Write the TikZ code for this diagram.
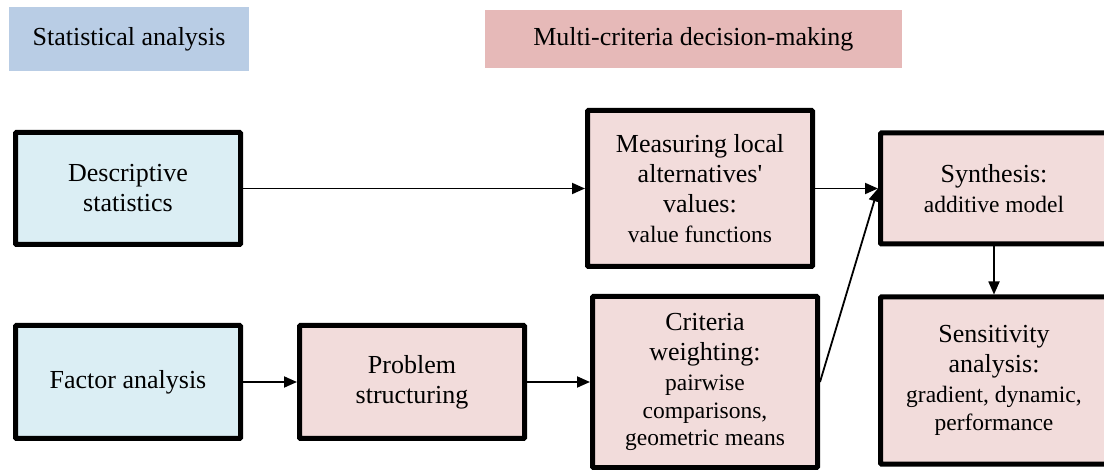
\documentclass[tikz,border=0pt]{standalone}
\usepackage{fontspec}
\newfontfamily\tnr{Liberation Serif}[Ligatures=TeXOff]
\usetikzlibrary{arrows.meta, positioning}
\definecolor{hblue}{HTML}{B9CDE5}
\definecolor{hpink}{HTML}{E6B9B8}
\definecolor{sblue}{HTML}{DBEEF4}
\definecolor{spink}{HTML}{F2DCDB}
\newcommand{\subtext}{\tnr\fontsize{11.75}{13.75}\selectfont}
\tikzset{
  head/.style={rectangle, draw=none, align=center, font=\tnr\fontsize{13}{15}\selectfont},
  box/.style={rectangle, rounded corners=0.5pt, draw=black, line width=2.5pt, minimum width=112.5pt,
              align=center, inner sep=1pt, font=\tnr\fontsize{13}{15}\selectfont},
  stat/.style={fill=sblue},
  mcdm/.style={fill=spink},
  flow/.style={-{Triangle[length=6.5pt, width=5.5pt]}, line width=0.9pt}
}

\begin{document}
\begin{tikzpicture}[x=0.5pt, y=0.5pt]
  \useasboundingbox (0,0) rectangle (1104,-470);
  % group headings
  \node[head, fill=hblue, minimum width=120pt, minimum height=32pt] (stathead) at (129,-39) {Statistical analysis};
  \node[head, fill=hpink, minimum width=208.5pt, minimum height=29pt, right=117.5pt of stathead] (mcdmhead) {Multi-criteria decision-making};

  % statistical steps
  \node[box, stat, minimum height=56pt] (desc) at (128,-188.5) {Descriptive\\statistics};
  \node[box, stat, minimum height=56.5pt, below=38pt of desc] (fact) {Factor analysis};

  % MCDM steps
  \node[box, mcdm, minimum height=56.5pt, right=27pt of fact] (prob) {Problem\\structuring};
  \node[box, mcdm, minimum height=78pt, right=171pt of desc] (meas) {Measuring local\\alternatives'\\values:\\{\subtext value functions}};
  \node[box, mcdm, minimum height=85.5pt, right=31.5pt of prob] (crit) {Criteria\\weighting:\\{\subtext pairwise}\\[-1.25pt]{\subtext comparisons,}\\[-1.25pt]{\subtext geometric means}};
  \node[box, mcdm, minimum width=113.5pt, minimum height=55.5pt, right=31.5pt of meas] (synth) {Synthesis:\\{\subtext additive model}};
  \node[box, mcdm, minimum width=113.5pt, minimum height=83.5pt, below=24pt of synth] (sens) {Sensitivity\\analysis:\\{\subtext gradient, dynamic,}\\[-1.25pt]{\subtext performance}};

  \draw[flow] (desc) -- (meas);
  \draw[flow] (fact) -- (prob);
  \draw[flow] (prob) -- (crit);
  \draw[flow] (meas) -- (synth);
  \draw[flow] (crit.east) -- (synth.west);
  \draw[flow] (synth) -- (sens);
\end{tikzpicture}
\end{document}
